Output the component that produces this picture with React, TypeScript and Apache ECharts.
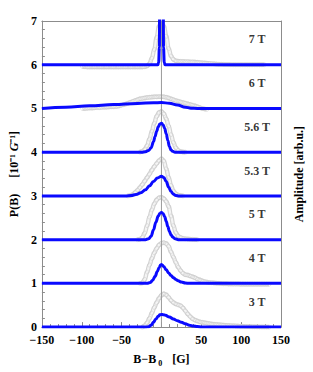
import React, { useEffect, useRef } from "react";
import * as echarts from "echarts";

// Field labels and vertical offsets of each trace (in units of the P(B) axis)
const FIELDS = ["3 T", "4 T", "5 T", "5.3 T", "5.6 T", "6 T", "7 T"];
const OFFSETS = [0, 1, 2, 3, 4, 5, 6];
const LABEL_X = 120;
const LABEL_DY = 0.58;

// Blue simulated P(B) curves, relative to their offset: [B-B0, value]
const BLUE_3T = [[-150, 0], [-20, 0], [-16, 0.01], [-13, 0.045], [-10, 0.11], [-7, 0.185], [-4, 0.25], [-2, 0.28], [0, 0.29], [2, 0.285], [5, 0.27], [10, 0.23], [15, 0.185], [20, 0.145], [25, 0.11], [30, 0.075], [35, 0.045], [40, 0.025], [45, 0.012], [50, 0.004], [56, 0], [150, 0]];
const BLUE_4T = [[-150, 0], [-18, 0], [-14, 0.02], [-11, 0.07], [-8, 0.16], [-5, 0.28], [-3, 0.36], [-1, 0.42], [0, 0.43], [1, 0.42], [3, 0.38], [6, 0.31], [9, 0.24], [12, 0.18], [15, 0.13], [18, 0.09], [21, 0.06], [25, 0.03], [30, 0.01], [35, 0], [150, 0]];
const BLUE_5T = [[-150, 0], [-20, 0], [-16, 0.02], [-13, 0.08], [-10, 0.22], [-7, 0.4], [-4, 0.54], [-2, 0.6], [0, 0.62], [2, 0.6], [4, 0.53], [6, 0.42], [8, 0.3], [10, 0.19], [12, 0.11], [14, 0.06], [17, 0.02], [21, 0], [150, 0]];
const BLUE_53T = [[-150, 0], [-45, 0], [-38, 0.01], [-32, 0.03], [-26, 0.07], [-20, 0.14], [-15, 0.23], [-10, 0.33], [-5, 0.41], [0, 0.45], [3, 0.42], [6, 0.33], [9, 0.2], [12, 0.1], [15, 0.04], [18, 0.01], [22, 0], [150, 0]];
const BLUE_56T = [[-150, 0], [-25, 0], [-20, 0.01], [-16, 0.04], [-13, 0.1], [-10, 0.24], [-8, 0.36], [-6, 0.48], [-4, 0.58], [-2, 0.645], [0, 0.66], [2, 0.63], [4, 0.55], [6, 0.42], [8, 0.27], [10, 0.13], [12, 0.05], [14, 0.02], [17, 0], [150, 0]];
const BLUE_6T = [[-150, 0], [-120, 0.03], [-90, 0.06], [-60, 0.09], [-30, 0.115], [-10, 0.13], [0, 0.135], [10, 0.12], [20, 0.08], [30, 0.03], [37, 0.005], [45, 0], [150, 0]];
const BLUE_7T = [[-150, 0], [-4.5, 0], [-3.5, 0.05], [-2.6, 0.4], [-2.3, 1.2], [-1.9, 2.5], [0, 3.5], [1.9, 2.5], [2.3, 1.2], [2.6, 0.4], [3.5, 0.05], [4.5, 0], [150, 0]];

// Grey measured spectra (open circles), relative to their offset: [B-B0, value]
const GRAY_3T = [[-24, 0], [-21, 0.03], [-18, 0.1], [-15, 0.2], [-12, 0.32], [-9, 0.45], [-6, 0.56], [-3, 0.66], [0, 0.73], [3, 0.76], [6, 0.74], [9, 0.68], [12, 0.61], [15, 0.56], [18, 0.53], [21, 0.51], [24, 0.49], [27, 0.44], [30, 0.37], [33, 0.3], [36, 0.24], [39, 0.19], [42, 0.16], [45, 0.14], [48, 0.12], [51, 0.11], [54, 0.1], [57, 0.09], [60, 0.08], [63, 0.07], [66, 0.065], [69, 0.06], [72, 0.055], [75, 0.05], [78, 0.045], [81, 0.04], [84, 0.035], [87, 0.033], [90, 0.03], [93, 0.027], [96, 0.024], [99, 0.02], [102, 0.018], [105, 0.016], [108, 0.014], [111, 0.012], [114, 0.01], [117, 0.008], [120, 0.006], [123, 0.005], [126, 0.004], [129, 0.003], [132, 0.002], [135, 0.001]];
const GRAY_4T = [[-27, 0], [-24, 0.01], [-21, 0.09], [-18, 0.26], [-15, 0.42], [-12, 0.57], [-9, 0.7], [-6, 0.8], [-3, 0.88], [0, 0.92], [3, 0.93], [6, 0.91], [9, 0.85], [12, 0.72], [15, 0.6], [18, 0.48], [21, 0.37], [24, 0.29], [27, 0.23], [30, 0.2], [33, 0.19], [36, 0.17], [39, 0.15], [42, 0.13], [45, 0.1], [48, 0.08], [51, 0.06], [54, 0.04], [57, 0.03], [60, 0.02], [63, 0.015], [66, 0.01], [69, 0.005], [72, 0], [75, -0.005], [78, -0.01], [81, -0.01], [84, -0.012], [87, -0.012], [90, -0.015], [93, -0.015], [96, -0.015], [99, -0.018], [102, -0.018], [105, -0.02], [108, -0.02], [111, -0.02], [114, -0.02], [117, -0.02], [120, -0.02], [123, -0.02], [126, -0.02], [129, -0.02], [132, -0.02], [135, -0.02]];
const GRAY_5T = [[-30, 0], [-27, 0.01], [-24, 0.05], [-21, 0.15], [-18, 0.32], [-15, 0.52], [-12, 0.68], [-9, 0.82], [-6, 0.91], [-3, 0.96], [0, 0.97], [3, 0.94], [6, 0.87], [9, 0.76], [12, 0.54], [15, 0.32], [18, 0.16], [21, 0.08], [24, 0.05], [27, 0.03], [30, 0.02], [33, 0.015], [36, 0.01], [39, 0.006], [42, 0.003], [45, 0]];
const GRAY_53T = [[-42, 0], [-39, 0.01], [-36, 0.03], [-33, 0.08], [-30, 0.13], [-27, 0.19], [-24, 0.26], [-21, 0.34], [-18, 0.42], [-15, 0.5], [-12, 0.59], [-9, 0.67], [-6, 0.74], [-3, 0.81], [0, 0.85], [3, 0.8], [6, 0.62], [9, 0.42], [12, 0.24], [15, 0.11], [18, 0.05], [21, 0.02], [24, 0.01], [27, 0]];
const GRAY_56T = [[-27, 0], [-24, 0.02], [-21, 0.06], [-18, 0.15], [-15, 0.3], [-12, 0.48], [-9, 0.66], [-6, 0.82], [-3, 0.91], [0, 0.93], [3, 0.88], [6, 0.76], [9, 0.6], [12, 0.4], [15, 0.22], [18, 0.1], [21, 0.04], [24, 0.015], [27, 0.005], [30, 0]];
const GRAY_6T = [[-99, 0], [-96, 0], [-93, 0.005], [-90, 0.01], [-87, 0.01], [-84, 0.015], [-81, 0.02], [-78, 0.02], [-75, 0.025], [-72, 0.03], [-69, 0.03], [-66, 0.035], [-63, 0.04], [-60, 0.04], [-57, 0.045], [-54, 0.055], [-51, 0.07], [-48, 0.085], [-45, 0.1], [-42, 0.12], [-39, 0.14], [-36, 0.16], [-33, 0.18], [-30, 0.2], [-27, 0.22], [-24, 0.23], [-21, 0.24], [-18, 0.25], [-15, 0.255], [-12, 0.26], [-9, 0.265], [-6, 0.265], [-3, 0.27], [0, 0.27], [3, 0.265], [6, 0.255], [9, 0.24], [12, 0.22], [15, 0.2], [18, 0.18], [21, 0.165], [24, 0.15], [27, 0.135], [30, 0.12], [33, 0.105], [36, 0.09], [39, 0.075], [42, 0.06], [45, 0.04], [48, 0.02], [51, 0.0], [54, -0.01], [57, -0.02]];
const GRAY_7T = [[-99, -0.04], [-96, -0.045], [-93, -0.05], [-90, -0.05], [-87, -0.05], [-84, -0.05], [-81, -0.05], [-78, -0.05], [-75, -0.05], [-72, -0.05], [-69, -0.05], [-66, -0.05], [-63, -0.05], [-60, -0.05], [-57, -0.05], [-54, -0.05], [-51, -0.05], [-48, -0.05], [-45, -0.05], [-42, -0.05], [-39, -0.05], [-36, -0.05], [-33, -0.05], [-30, -0.05], [-27, -0.05], [-24, -0.05], [-21, -0.045], [-18, -0.03], [-15, 0.02], [-12, 0.15], [-9, 0.35], [-6, 0.62], [-3, 0.88], [0, 0.97], [3, 0.88], [6, 0.65], [9, 0.37], [12, 0.2], [15, 0.12], [18, 0.09], [21, 0.08], [24, 0.075], [27, 0.075], [30, 0.07], [33, 0.07], [36, 0.065], [39, 0.065], [42, 0.06], [45, 0.055], [48, 0.05], [51, 0.045], [54, 0.04], [57, 0.035], [60, 0.03], [63, 0.025], [66, 0.02], [69, 0.015], [72, 0.012], [75, 0.01], [78, 0.008], [81, 0.006], [84, 0.004], [87, 0.002], [90, 0], [93, 0], [96, 0], [99, 0], [102, 0], [105, 0], [108, 0], [111, 0], [114, 0], [117, 0], [120, 0], [123, 0], [126, 0], [129, 0]];

const BLUE = [BLUE_3T, BLUE_4T, BLUE_5T, BLUE_53T, BLUE_56T, BLUE_6T, BLUE_7T];
const GRAY = [GRAY_3T, GRAY_4T, GRAY_5T, GRAY_53T, GRAY_56T, GRAY_6T, GRAY_7T];

const FONT = "Liberation Serif";
const AXIS_COLOR = "#8c8c8c";
const BLUE_COLOR = "#0a0aff";
const GRAY_EDGE = "#d3d3d3";
const GRAY_FILL = "#f4f4f4";
const GRAY_RING = "#cfcfcf";

function fmtNum(v: number) {
  return v < 0 ? "\u2212" + Math.abs(v) : String(v);
}

export default function App() {
  const ref = useRef<HTMLDivElement>(null);

  useEffect(() => {
    if (!ref.current) return;
    const chart = echarts.init(ref.current, undefined, { renderer: "svg" });

    const series: any[] = [];
    GRAY.forEach((pts, i) => {
      const data = pts.map(([x, y]) => [x, y + OFFSETS[i]]);
      // chain of open circles: drawn as a hollow tube plus the circles themselves
      series.push({
        type: "line",
        data,
        showSymbol: false,
        smooth: 0.4,
        smoothMonotone: "x",
        lineStyle: { color: GRAY_EDGE, width: 4.5 },
        silent: true,
        z: 1,
      });
      series.push({
        type: "line",
        data,
        showSymbol: false,
        smooth: 0.4,
        smoothMonotone: "x",
        lineStyle: { color: GRAY_FILL, width: 2.2 },
        silent: true,
        z: 1,
      });
      series.push({
        type: "scatter",
        symbol: "circle",
        symbolSize: 4,
        itemStyle: { color: "rgba(255,255,255,0)", borderColor: GRAY_RING, borderWidth: 0.7 },
        data,
        silent: true,
        z: 1,
      });
    });
    series.push({
      type: "line",
      data: [[0, 0], [0, 7]],
      showSymbol: false,
      lineStyle: { color: "#9a9a9a", width: 1 },
      silent: true,
      z: 2,
    });
    BLUE.forEach((pts, i) => {
      series.push({
        type: "line",
        data: pts.map(([x, y]) => [x, y + OFFSETS[i]]),
        showSymbol: false,
        smooth: 0.4,
        smoothMonotone: "x",
        lineStyle: { color: BLUE_COLOR, width: 3 },
        silent: true,
        z: 3,
      });
    });
    series.push({
      type: "scatter",
      symbolSize: 0,
      data: FIELDS.map((f, i) => ({ value: [LABEL_X, OFFSETS[i] + LABEL_DY], name: f })),
      label: {
        show: true,
        position: "inside",
        formatter: (p: any) => p.name,
        fontFamily: FONT,
        fontWeight: "bold",
        fontSize: 12,
        color: "#000",
      },
      silent: true,
      z: 4,
    });

    const labelStyle = { fontFamily: FONT, fontWeight: "bold" as const, fontSize: 12, color: "#000" };

    chart.setOption({
      animation: false,
      grid: { left: 31, right: 22, top: 21, bottom: 40, containLabel: false },
      xAxis: [
        {
          type: "value",
          min: -150,
          max: 150,
          interval: 50,
          position: "bottom",
          axisLine: { show: true, onZero: false, lineStyle: { color: AXIS_COLOR, width: 1 } },
          axisTick: { show: true, inside: true, length: 5, lineStyle: { color: AXIS_COLOR } },
          minorTick: { show: true, splitNumber: 5, length: 3, lineStyle: { color: AXIS_COLOR } },
          splitLine: { show: false },
          axisLabel: { ...labelStyle, lineHeight: 10, margin: 8, formatter: (v: number) => fmtNum(v) },
          name: "{a|B\u2212B}{s|0}{g|[G]}",
          nameLocation: "middle",
          nameGap: 20,
          nameTextStyle: {
            rich: {
              a: { ...labelStyle, lineHeight: 14 },
              s: { fontFamily: FONT, fontWeight: "bold", fontSize: 8, color: "#000", padding: [8, 0, 0, 2], lineHeight: 14 },
              g: { ...labelStyle, padding: [0, 0, 0, 10], lineHeight: 14 },
            },
          },
        },
        {
          type: "value",
          min: -150,
          max: 150,
          position: "top",
          axisLine: { show: true, onZero: false, lineStyle: { color: AXIS_COLOR, width: 1 } },
          axisTick: { show: false },
          axisLabel: { show: false },
          splitLine: { show: false },
        },
      ],
      yAxis: [
        {
          type: "value",
          min: 0,
          max: 7,
          interval: 1,
          position: "left",
          axisLine: { show: true, onZero: false, lineStyle: { color: AXIS_COLOR, width: 1 } },
          axisTick: { show: true, inside: true, length: 5, lineStyle: { color: AXIS_COLOR } },
          minorTick: { show: true, splitNumber: 5, length: 3, lineStyle: { color: AXIS_COLOR } },
          splitLine: { show: false },
          axisLabel: { ...labelStyle, lineHeight: 10, margin: 5 },
          name: "{a|P(B)}{b|[10\u207B\u00B9 }{i|G}{b|\u207B\u00B9]}",
          nameLocation: "middle",
          nameRotate: 90,
          nameGap: 19,
          nameTextStyle: {
            rich: {
              a: { ...labelStyle, padding: [0, 16, 0, 0] },
              b: { ...labelStyle },
              i: { ...labelStyle, fontStyle: "italic" },
            },
          },
        },
        {
          type: "value",
          min: 0,
          max: 7,
          position: "right",
          axisLine: { show: true, onZero: false, lineStyle: { color: AXIS_COLOR, width: 1 } },
          axisTick: { show: false },
          axisLabel: { show: false },
          splitLine: { show: false },
          name: "Amplitude [arb.u.]",
          nameLocation: "middle",
          nameRotate: 90,
          nameGap: 12,
          nameTextStyle: { ...labelStyle },
        },
      ],
      series,
    });

    return () => chart.dispose();
  }, []);

  return (
    <div
      ref={ref}
      style={{ position: "fixed", left: 0, top: 0, width: 313, height: 372, background: "#fff" }}
    />
  );
}
